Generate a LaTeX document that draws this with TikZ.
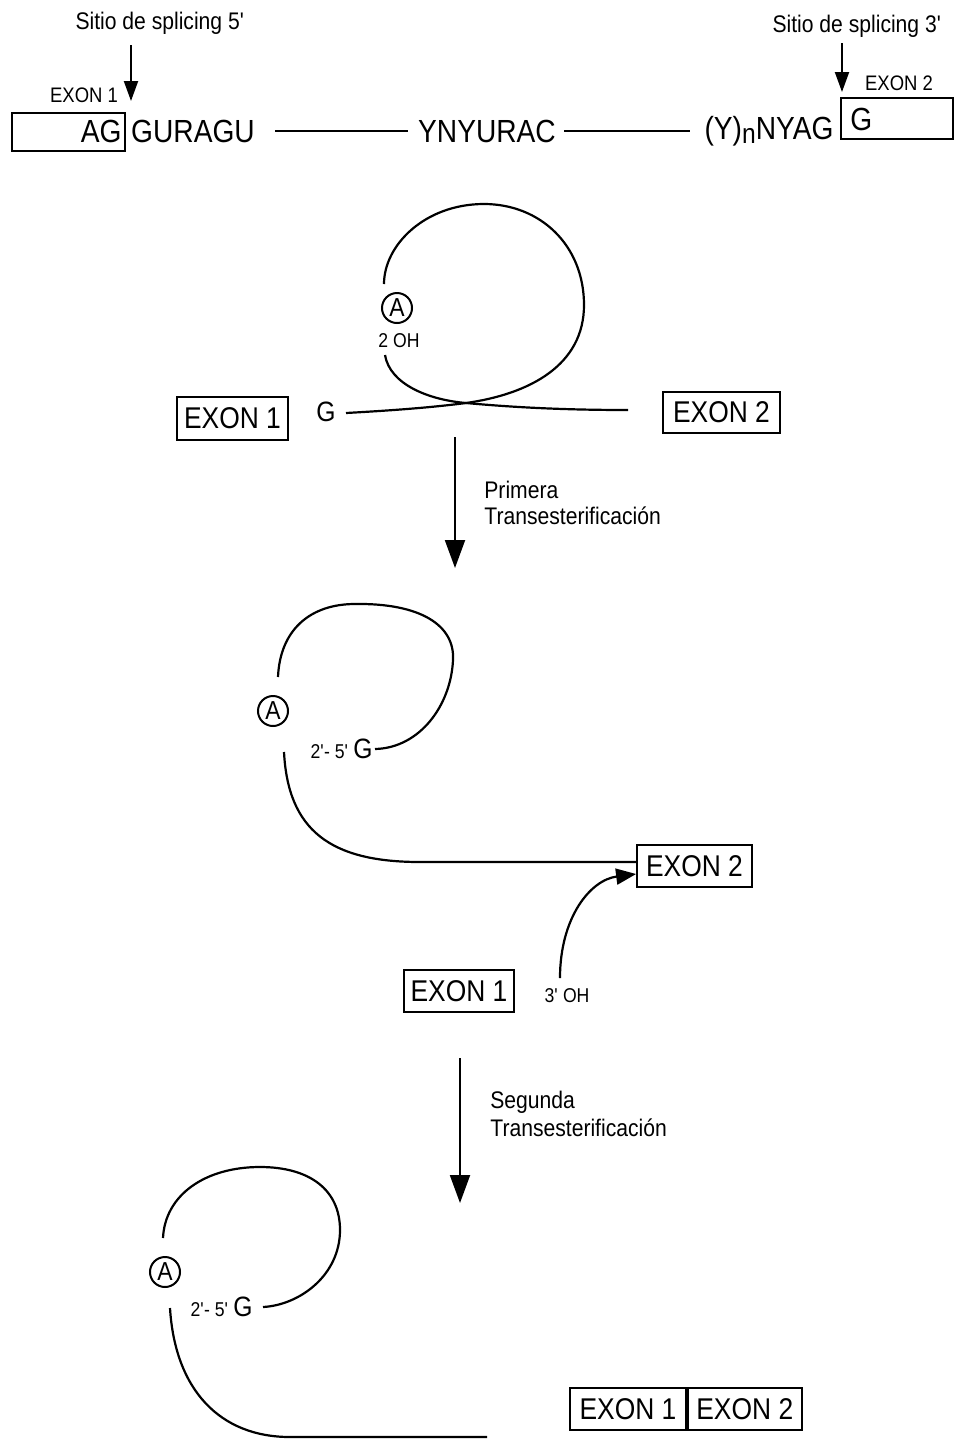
\documentclass[tikz,border=0pt]{standalone}
\usepackage{fontspec}
\setmainfont{Liberation Sans}[FakeStretch=0.88]
\usetikzlibrary{arrows.meta}
\newcommand\myfs[1]{\fontsize{#1pt}{#1pt}\selectfont}
\newcommand\myq{\textquotesingle}
\begin{document}
\begin{tikzpicture}[x=0.5pt,y=-0.5pt,
  strand/.style={line width=1.1pt},
  box/.style={draw, line width=0.9pt, inner sep=0pt},
  arr/.style={line width=1pt, -{Triangle[length=10pt,width=7pt]}},
  bigarr/.style={line width=1pt, -{Triangle[length=14pt,width=10pt]}},
  smallarr/.style={line width=1.1pt, -{Triangle[length=10pt,width=8pt]}},
  lbl/.style={inner sep=0pt, font=\myfs{12}},
  seq/.style={inner sep=0pt, font=\myfs{16}},
  exbox/.style={box, font=\myfs{15}},
  circA/.style={draw, circle, line width=1pt, inner sep=0pt, minimum size=15pt, font=\myfs{13}}]
\useasboundingbox (0,0) rectangle (955,1447);
% ---------- top row ----------
\node[lbl] (s5) at (160,23) {Sitio de splicing 5\myq};
\coordinate (a5s) at (131,45);
\coordinate (a5e) at (131,101);
\draw[arr] (a5s) -- (a5e);
\node[lbl, font=\myfs{10.5}] (ex1s) at (84,95) {EXON 1};
\node[box, minimum width=56.5pt, minimum height=19pt] (bx1) at (68.5,132) {};
\node[seq, anchor=east] (ag) at (122,131) {AG};
\node[seq] (gur) at (193,131) {GURAGU};
\node[seq] (yny) at (487,131) {YNYURAC};
\node[seq] (yag) at (769,131) {(Y){\myfs{14}\raisebox{-2pt}{n}}NYAG};
\draw[strand] ([xshift=10pt]gur.east) -- ([xshift=-5pt]yny.west);
\draw[strand] ([xshift=4pt]yny.east) -- ([xshift=-7pt]yag.west);
\node[box, minimum width=56pt, minimum height=20.5pt] (bx2) at (897,118.5) {};
\node[seq, anchor=west] (g0) at (850,119) {G};
\node[lbl, font=\myfs{10.5}] (ex2s) at (899,83) {EXON 2};
\node[lbl] (s3) at (857,26) {Sitio de splicing 3\myq};
\coordinate (a3s) at (842,43);
\coordinate (a3e) at (842,92);
\draw[arr] (a3s) -- (a3e);
% ---------- stage 1 ----------
\node[exbox, minimum width=55.5pt, minimum height=21.5pt] (e11) at (232.5,418.5) {EXON 1};
\node[seq, font=\myfs{14}] (g1) at (326,412) {G};
\node[exbox, minimum width=58.5pt, minimum height=20.5pt] (e12) at (721.5,412.5) {EXON 2};
\node[circA] (A1) at (397,308) {A};
\node[lbl, font=\myfs{10}] (oh1) at (399,341) {2 OH};
\coordinate (x1) at (466,403);
\coordinate (b1s) at (346,413);
\coordinate (l1a) at (384,284);
\coordinate (l1b) at (385,355);
\coordinate (r1) at (628,410);
\draw[strand] (b1s) .. controls (400,410) and (435,407) .. (x1)
  .. controls (530,394) and (584,365) .. (584,305)
  .. controls (584,245) and (540,204) .. (484,204)
  .. controls (425,204) and (384,245) .. (l1a);
\draw[strand] (l1b) .. controls (390,385) and (430,400) .. (x1)
  .. controls (510,407) and (560,410) .. (r1);
% arrow 1
\coordinate (p1s) at (455,437);
\coordinate (p1e) at (455,568);
\draw[bigarr] (p1s) -- (p1e);
\node[lbl, anchor=west] (t1a) at (484,490) {Primera};
\node[lbl, anchor=west] (t1b) at (484,516) {Transesterificación};
% ---------- stage 2 ----------
\node[circA] (A2) at (273,711) {A};
\node[anchor=east, inner sep=0pt] (g2) at (373,749) {\myfs{10}2\myq- 5\myq\ \myfs{14}G};
\coordinate (l2a) at (278,677);
\coordinate (l2b) at (284,752);
\draw[strand] (l2a) .. controls (280,630) and (310,604) .. (355,604)
  .. controls (420,603) and (455,625) .. (453,660)
  .. controls (451,705) and (420,748) .. ([xshift=1pt]g2.east);
\node[exbox, minimum width=57.5pt, minimum height=21pt] (e22) at (694.5,866) {EXON 2};
\draw[strand] (l2b) .. controls (288,830) and (330,862) .. (420,862) -- ([yshift=2pt]e22.west);
\node[exbox, minimum width=55pt, minimum height=21pt] (e21) at (459,991) {EXON 1};
\node[lbl, font=\myfs{10}] (oh2) at (567,996) {3\myq\ OH};
\coordinate (oh2s) at (560,978);
\draw[smallarr] (oh2s) .. controls (560,918) and (590,880) .. ([yshift=-4pt]e22.west);
% arrow 2
\coordinate (p2s) at (460,1058);
\coordinate (p2e) at (460,1203);
\draw[bigarr] (p2s) -- (p2e);
\node[lbl, anchor=west] (t2a) at (490,1102) {Segunda};
\node[lbl, anchor=west] (t2b) at (490,1128) {Transesterificación};
% ---------- stage 3 ----------
\node[circA] (A3) at (165,1272) {A};
\node[anchor=east, inner sep=0pt] (g3) at (253,1307) {\myfs{10}2\myq- 5\myq\ \myfs{14}G};
\coordinate (l3a) at (163,1238);
\coordinate (l3b) at (170,1308);
\coordinate (r3) at (487,1437);
\draw[strand] (l3a) .. controls (165,1195) and (205,1167) .. (260,1167)
  .. controls (310,1167) and (340,1190) .. (340,1230)
  .. controls (340,1275) and (300,1305) .. ([xshift=5pt]g3.east);
\draw[strand] (l3b) .. controls (175,1390) and (220,1437) .. (290,1437) -- (r3);
\node[exbox, minimum width=58pt, minimum height=21pt] (e31) at (628,1409) {EXON 1};
\node[exbox, minimum width=57pt, minimum height=21pt, anchor=west] (e32) at (e31.east) {EXON 2};
\end{tikzpicture}
\end{document}
